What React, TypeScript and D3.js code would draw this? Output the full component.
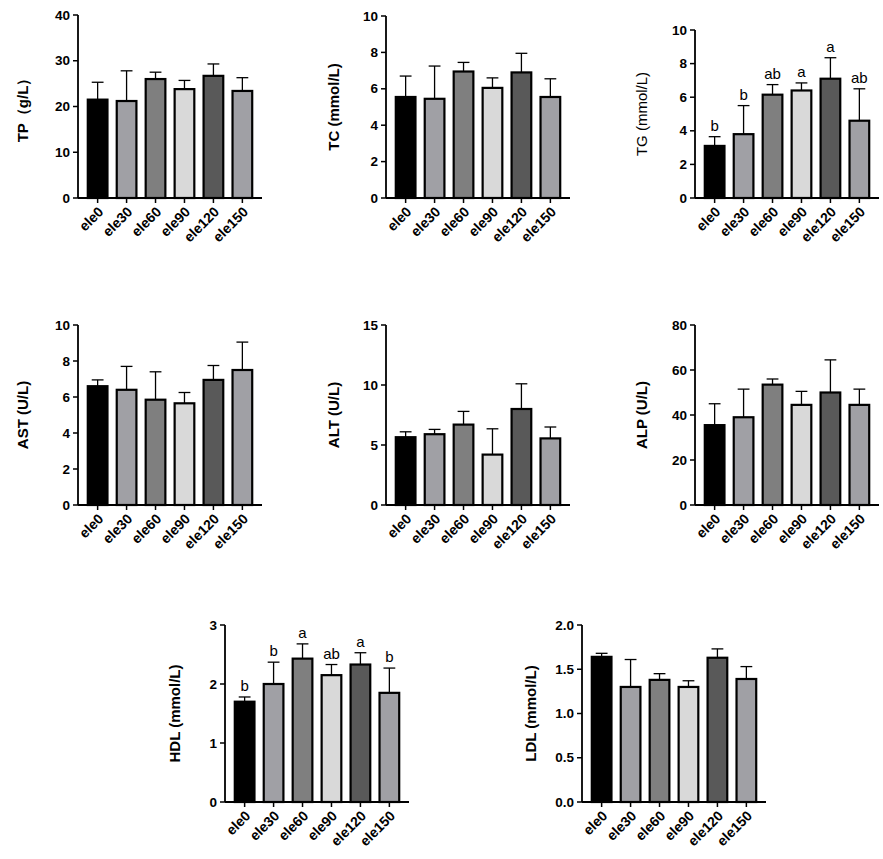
import React from "react";
import * as d3 from "d3";

const groups = ["ele0", "ele30", "ele60", "ele90", "ele120", "ele150"];
const fills = ["#000000", "#a0a0a5", "#7f7f7f", "#d9d9d9", "#595959", "#a0a0a5"];

const tpMean = [21.5, 21.2, 26.0, 23.8, 26.7, 23.4];
const tpErr = [3.8, 6.6, 1.5, 1.9, 2.6, 2.9];
const tcMean = [5.55, 5.45, 6.95, 6.05, 6.9, 5.55];
const tcErr = [1.15, 1.8, 0.5, 0.55, 1.05, 1.0];
const tgMean = [3.1, 3.8, 6.15, 6.4, 7.1, 4.6];
const tgErr = [0.55, 1.7, 0.6, 0.45, 1.25, 1.9];
const tgLetters = ["b", "b", "ab", "a", "a", "ab"];
const astMean = [6.6, 6.4, 5.85, 5.65, 6.95, 7.5];
const astErr = [0.35, 1.3, 1.55, 0.6, 0.8, 1.55];
const altMean = [5.65, 5.9, 6.7, 4.2, 8.0, 5.55];
const altErr = [0.45, 0.4, 1.1, 2.15, 2.1, 0.95];
const alpMean = [35.5, 39, 53.5, 44.5, 50, 44.5];
const alpErr = [9.5, 12.5, 2.5, 6, 14.5, 7];
const hdlMean = [1.7, 2.0, 2.43, 2.15, 2.33, 1.85];
const hdlErr = [0.08, 0.37, 0.25, 0.18, 0.2, 0.42];
const hdlLetters = ["b", "b", "a", "ab", "a", "b"];
const ldlMean = [1.64, 1.3, 1.38, 1.3, 1.63, 1.39];
const ldlErr = [0.04, 0.31, 0.07, 0.07, 0.1, 0.14];

const tpTicks = [0, 10, 20, 30, 40];
const tcTicks = [0, 2, 4, 6, 8, 10];
const tgTicks = [0, 2, 4, 6, 8, 10];
const astTicks = [0, 2, 4, 6, 8, 10];
const altTicks = [0, 5, 10, 15];
const alpTicks = [0, 20, 40, 60, 80];
const hdlTicks = [0, 1, 2, 3];
const ldlTicks = [0, 0.5, 1.0, 1.5, 2.0];

type P = {
  x: number; top: number; bottom: number; label: string; labelX: number; bold: boolean;
  mean: number[]; err: number[]; ticks: number[]; fmt: (v: number) => string; letters?: string[];
};

const f0 = (v: number) => String(v);
const f1 = d3.format(".1f");

const panels: P[] = [
  { x: 78, top: 15, bottom: 198, label: "TP（g/L）", labelX: 22, bold: true, mean: tpMean, err: tpErr, ticks: tpTicks, fmt: f0 },
  { x: 386, top: 16, bottom: 198, label: "TC (mmol/L)", labelX: 333, bold: true, mean: tcMean, err: tcErr, ticks: tcTicks, fmt: f0 },
  { x: 695, top: 30, bottom: 198, label: "TG (mmol/L)", labelX: 641, bold: false, mean: tgMean, err: tgErr, ticks: tgTicks, fmt: f0, letters: tgLetters },
  { x: 78, top: 325, bottom: 505, label: "AST (U/L)", labelX: 22, bold: true, mean: astMean, err: astErr, ticks: astTicks, fmt: f0 },
  { x: 386, top: 325, bottom: 505, label: "ALT (U/L)", labelX: 333, bold: true, mean: altMean, err: altErr, ticks: altTicks, fmt: f0 },
  { x: 695, top: 325, bottom: 505, label: "ALP (U/L)", labelX: 641, bold: true, mean: alpMean, err: alpErr, ticks: alpTicks, fmt: f0 },
  { x: 225, top: 625, bottom: 802, label: "HDL (mmol/L)", labelX: 174, bold: true, mean: hdlMean, err: hdlErr, ticks: hdlTicks, fmt: f0, letters: hdlLetters },
  { x: 582, top: 625, bottom: 802, label: "LDL (mmol/L)", labelX: 530, bold: true, mean: ldlMean, err: ldlErr, ticks: ldlTicks, fmt: f1 },
];

const FONT = "'Liberation Sans', Arial, sans-serif";

function Panel({ p }: { p: P }) {
  const width = 180;
  const x = d3.scaleBand().domain(groups).range([p.x + 4, p.x + width]).paddingInner(0.32).paddingOuter(0.2);
  const y = d3.scaleLinear().domain([p.ticks[0], p.ticks[p.ticks.length - 1]]).range([p.bottom, p.top]);
  const bw = x.bandwidth();
  return (
    <g fontFamily={FONT}>
      {groups.map((g, i) => {
        const cx = x(g)! + bw / 2;
        const yt = y(p.mean[i] + p.err[i]);
        return (
          <g key={g}>
            <line x1={cx} x2={cx} y1={y(p.mean[i])} y2={yt} stroke="#000" strokeWidth={1.3} />
            <line x1={cx - bw * 0.3} x2={cx + bw * 0.3} y1={yt} y2={yt} stroke="#000" strokeWidth={1.3} />
            <rect x={x(g)!} y={y(p.mean[i])} width={bw} height={y(0) - y(p.mean[i])} fill={fills[i]} stroke="#000" strokeWidth={2.2} />
            {p.letters && (
              <text x={cx} y={yt - 6} textAnchor="middle" fontSize={15}>{p.letters[i]}</text>
            )}
            <line x1={cx} x2={cx} y1={p.bottom} y2={p.bottom + 5} stroke="#000" strokeWidth={1.5} />
            <text transform={`translate(${cx + 4},${p.bottom + 12}) rotate(-45)`} textAnchor="end" dominantBaseline="middle" fontSize={14} fontWeight="bold">{g}</text>
          </g>
        );
      })}
      <line x1={p.x} x2={p.x} y1={p.top} y2={p.bottom} stroke="#000" strokeWidth={1.8} />
      <line x1={p.x} x2={p.x + width + 4} y1={p.bottom} y2={p.bottom} stroke="#000" strokeWidth={1.8} />
      {p.ticks.map((t) => (
        <g key={t}>
          <line x1={p.x - 5} x2={p.x} y1={y(t)} y2={y(t)} stroke="#000" strokeWidth={1.5} />
          <text x={p.x - 8} y={y(t)} textAnchor="end" dominantBaseline="central" fontSize={13.5} fontWeight="bold">{p.fmt(t)}</text>
        </g>
      ))}
      <text transform={`translate(${p.labelX},${(p.top + p.bottom) / 2}) rotate(-90)`} textAnchor="middle" dominantBaseline="central" fontSize={15} fontWeight={p.bold ? "bold" : "normal"}>{p.label}</text>
    </g>
  );
}

export default function App() {
  return (
    <svg width={883} height={859} style={{ position: "absolute", left: 0, top: 0, background: "#fff" }}>
      <rect width={883} height={859} fill="#fff" />
      {panels.map((p, i) => <Panel key={i} p={p} />)}
    </svg>
  );
}
